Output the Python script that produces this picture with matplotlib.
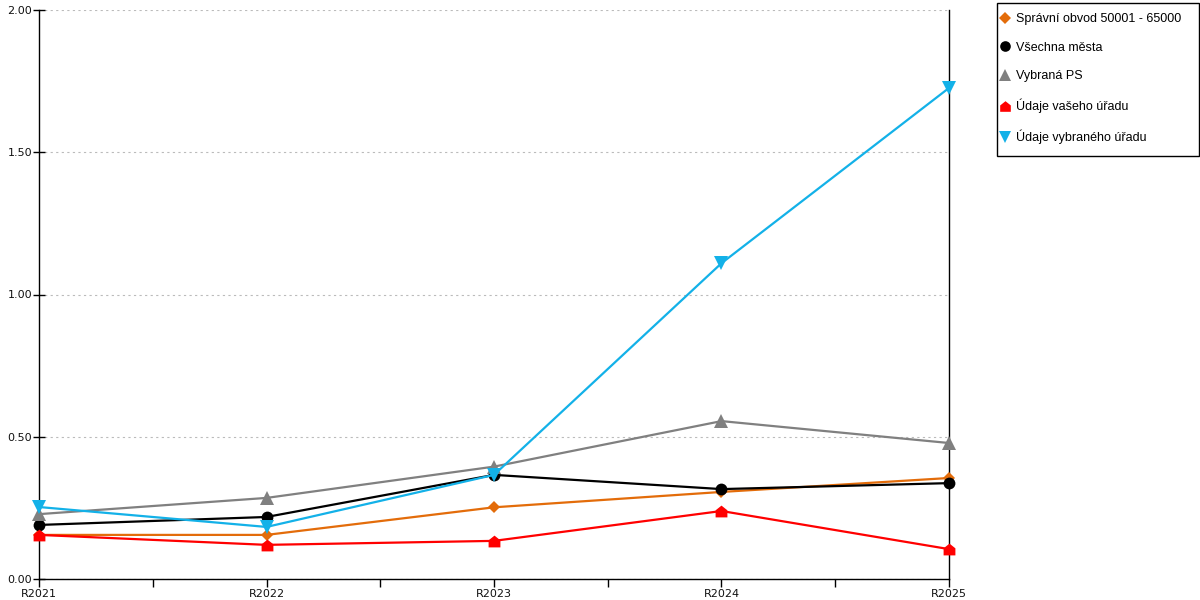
import matplotlib
matplotlib.use("Agg")
import matplotlib.pyplot as plt
from matplotlib.path import Path
from matplotlib.lines import Line2D
from matplotlib.patches import Rectangle

categories = ["R2021", "R2022", "R2023", "R2024", "R2025"]
spravni_obvod = [0.155, 0.155, 0.252, 0.306, 0.355]
vsechna_mesta = [0.190, 0.218, 0.366, 0.316, 0.337]
vybrana_ps = [0.228, 0.285, 0.395, 0.555, 0.478]
udaje_vaseho = [0.155, 0.120, 0.134, 0.239, 0.105]
udaje_vybraneho = [0.253, 0.183, 0.366, 1.110, 1.726]

series_names = ["Správní obvod 50001 - 65000", "Všechna města", "Vybraná PS",
                "Údaje vašeho úřadu", "Údaje vybraného úřadu"]
y_ticks = [0.0, 0.5, 1.0, 1.5, 2.0]
y_tick_labels = ["0.00", "0.50", "1.00", "1.50", "2.00"]

plt.rcParams['font.family'] = ['DejaVu Sans']

house = Path([(-1, -1), (1, -1), (1, 0.2), (0, 1), (-1, 0.2), (-1, -1)],
             [Path.MOVETO, Path.LINETO, Path.LINETO, Path.LINETO, Path.LINETO, Path.CLOSEPOLY])

styles = [
    dict(color="#E36C0A", marker="D", ms=6.5),
    dict(color="#000000", marker="o", ms=8.5),
    dict(color="#808080", marker="^", ms=9.5),
    dict(color="#FF0000", marker=house, ms=8.5),
    dict(color="#13B1E8", marker="v", ms=9.5),
]
data = [spravni_obvod, vsechna_mesta, vybrana_ps, udaje_vaseho, udaje_vybraneho]

fig = plt.figure(figsize=(12, 6), dpi=100)
ax = fig.add_axes([39/1200, 1-579/600, (949-39)/1200, (579-10)/600])

x = list(range(len(categories)))
for vals, st in zip(data, styles):
    ax.plot(x, vals, color=st["color"], lw=1.6, marker=st["marker"],
            markersize=st["ms"], markeredgewidth=0, zorder=3, clip_on=False)

ax.set_xlim(0, len(categories) - 1)
ax.set_ylim(0, 2.0)
ax.set_xticks(x)
ax.set_xticklabels(categories)
ax.set_xticks([i + 0.5 for i in x[:-1]], minor=True)
ax.set_yticks(y_ticks)
ax.set_yticklabels(y_tick_labels)

ax.tick_params(axis='x', which='both', direction='out', length=6, width=1,
               labelsize=8, labelcolor="#111111", pad=1)
ax.tick_params(axis='y', which='both', direction='inout', length=8, width=1,
               labelsize=8, labelcolor="#111111", pad=1)
ax.yaxis.grid(True, color="#BBBBBB", linestyle=(0, (2, 3)), linewidth=0.8)
ax.set_axisbelow(True)

ax.spines["top"].set_visible(False)
for s in ["left", "right", "bottom"]:
    ax.spines[s].set_color("black")
    ax.spines[s].set_linewidth(1)

# legend frame
fig.patches.append(Rectangle((996.5/1200, 1-155.5/600), (1198.5-996.5)/1200, (155.5-2.5)/600,
                             transform=fig.transFigure, fill=False, edgecolor="black",
                             linewidth=1))

handles = [Line2D([], [], linestyle="none", color=st["color"], marker=st["marker"],
                  markersize=st["ms"] * 0.9, markeredgewidth=0) for st in styles]
leg = fig.legend(handles, series_names, loc="upper left",
                 bbox_to_anchor=(1001/1200, 1-13/600), frameon=False,
                 prop={'family': 'Liberation Sans', 'size': 9},
                 handlelength=0.65, handletextpad=0.55, labelspacing=1.33,
                 borderpad=0, borderaxespad=0)

fig.savefig("out.png", dpi=100)
